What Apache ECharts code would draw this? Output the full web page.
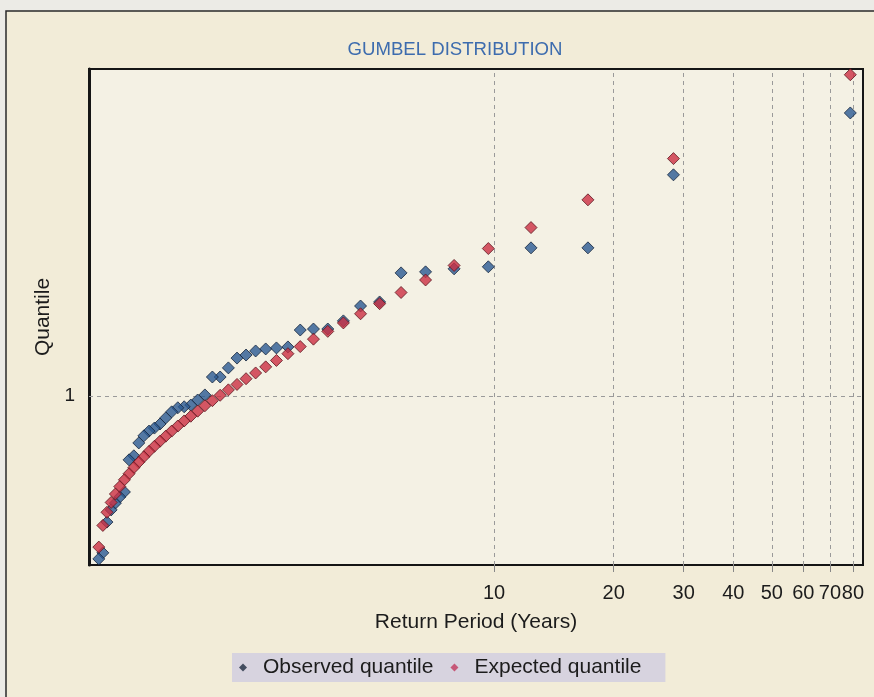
<!DOCTYPE html>
<html>
<head>
<meta charset="utf-8">
<title>Gumbel distribution</title>
<script src="https://cdn.jsdelivr.net/npm/echarts@6/dist/echarts.min.js"></script>
<style>
  html, body { margin: 0; padding: 0; background: #ecebe6; }
  #chart { width: 874px; height: 697px; }
</style>
</head>
<body>
<div id="chart"></div>
<script>
// return periods (years), one per ranked event
var returnPeriods = [78.79, 28.28, 17.23, 12.39, 9.675, 7.935, 6.726, 5.836, 5.154, 4.615,
  4.178, 3.817, 3.513, 3.254, 3.030, 2.835, 2.664, 2.513, 2.377, 2.256,
  2.146, 2.046, 1.956, 1.873, 1.796, 1.726, 1.661, 1.601, 1.545, 1.493,
  1.444, 1.398, 1.355, 1.315, 1.277, 1.241, 1.207, 1.175, 1.144, 1.115,
  1.088, 1.062, 1.037, 1.013];

var observedQuantile = [1.837, 1.654, 1.438, 1.438, 1.382, 1.376, 1.367, 1.364, 1.278, 1.266,
  1.222, 1.198, 1.198, 1.195, 1.145, 1.142, 1.139, 1.133, 1.121, 1.112,
  1.083, 1.056, 1.056, 1.003, 0.988, 0.973, 0.968, 0.965, 0.953, 0.935,
  0.917, 0.905, 0.896, 0.882, 0.861, 0.823, 0.811, 0.716, 0.701, 0.683,
  0.663, 0.627, 0.536, 0.518];

var expectedQuantile = [1.950, 1.702, 1.580, 1.498, 1.436, 1.386, 1.343, 1.306, 1.273, 1.243,
  1.216, 1.191, 1.168, 1.146, 1.125, 1.105, 1.086, 1.068, 1.051, 1.034,
  1.018, 1.002, 0.986, 0.971, 0.955, 0.940, 0.926, 0.911, 0.896, 0.881,
  0.866, 0.851, 0.836, 0.820, 0.804, 0.788, 0.770, 0.752, 0.732, 0.710,
  0.685, 0.656, 0.617, 0.553];

// tick labels
var xTicks = [10, 20, 30, 40, 50, 60, 70, 80];
var yTicks = [1];

var chart = echarts.init(document.getElementById('chart'));

function pairs(ys) {
  return returnPeriods.map(function (t, i) { return [t, ys[i]]; });
}

var gridLines = xTicks.map(function (v) { return { xAxis: v }; })
  .concat(yTicks.map(function (v) { return { yAxis: v }; }));

var font = "'Liberation Sans', Arial, sans-serif";

chart.setOption({
  backgroundColor: '#ecebe6',
  animation: false,
  graphic: [{
    type: 'rect',
    z: -10,
    shape: { x: 6, y: 11, width: 900, height: 700 },
    style: { fill: '#f2ecd8', stroke: '#2a2a2a', lineWidth: 1.5 }
  }],
  title: {
    text: 'GUMBEL DISTRIBUTION',
    left: 450,
    textAlign: 'center',
    top: 35,
    textStyle: { color: '#3d6cae', fontSize: 18.6, fontWeight: 'normal', fontFamily: font }
  },
  legend: {
    left: 232,
    top: 653,
    itemWidth: 8,
    itemHeight: 8,
    itemGap: 17,
    padding: [4, 24, 4, 7],
    backgroundColor: '#d7d3df',
    borderRadius: 0,
    textStyle: { color: '#1c1c1c', fontSize: 21, fontFamily: font, padding: [0, 0, 0, 11] },
    data: [
      { name: 'Observed quantile', icon: 'diamond', itemStyle: { color: '#1e2c40', borderWidth: 0 } },
      { name: 'Expected quantile', icon: 'diamond', itemStyle: { color: '#c23a5e', borderWidth: 0 } }
    ]
  },
  grid: {
    left: 89, right: 11, top: 69, bottom: 132,
    show: true,
    backgroundColor: '#f4f1e4',
    borderColor: '#151515',
    borderWidth: 2
  },
  xAxis: {
    type: 'log',
    logBase: 10,
    min: 0.957,
    max: 84.8,
    name: 'Return Period (Years)',
    nameLocation: 'middle',
    nameGap: 47,
    nameTextStyle: { color: '#1c1c1c', fontSize: 21, fontFamily: font },
    axisLine: { show: true, lineStyle: { color: '#151515', width: 2 } },
    axisTick: { show: true, customValues: xTicks, length: 7, lineStyle: { color: '#888' } },
    minorTick: { show: false },
    axisLabel: {
      customValues: xTicks,
      margin: 18,
      color: '#1c1c1c',
      fontSize: 20,
      fontFamily: font
    },
    splitLine: { show: false },
    minorSplitLine: { show: false }
  },
  yAxis: {
    type: 'value',
    min: 0.5,
    max: 1.967,
    name: 'Quantile',
    nameLocation: 'middle',
    nameGap: 30,
    nameTextStyle: { color: '#1c1c1c', fontSize: 21, fontFamily: font },
    axisLine: { show: true, lineStyle: { color: '#151515', width: 3 } },
    axisTick: { show: false },
    axisLabel: {
      customValues: yTicks,
      margin: 14,
      color: '#1c1c1c',
      fontSize: 19,
      fontFamily: font
    },
    splitLine: { show: false }
  },
  series: [{
    name: 'Observed quantile',
    type: 'scatter',
    symbol: 'diamond',
    symbolSize: 12,
    itemStyle: { color: '#2b5a92', borderColor: '#16263c', borderWidth: 1 },
    data: pairs(observedQuantile),
    z: 3,
    markLine: {
      silent: true,
      symbol: 'none',
      label: { show: false },
      lineStyle: { color: '#9a9a9a', type: [4, 4], width: 1 },
      data: gridLines,
      z: 1
    }
  }, {
    name: 'Expected quantile',
    type: 'scatter',
    symbol: 'diamond',
    symbolSize: 12,
    itemStyle: { color: '#cc3042', borderColor: '#5c1820', borderWidth: 1 },
    data: pairs(expectedQuantile),
    z: 4
  }]
});
</script>
</body>
</html>
